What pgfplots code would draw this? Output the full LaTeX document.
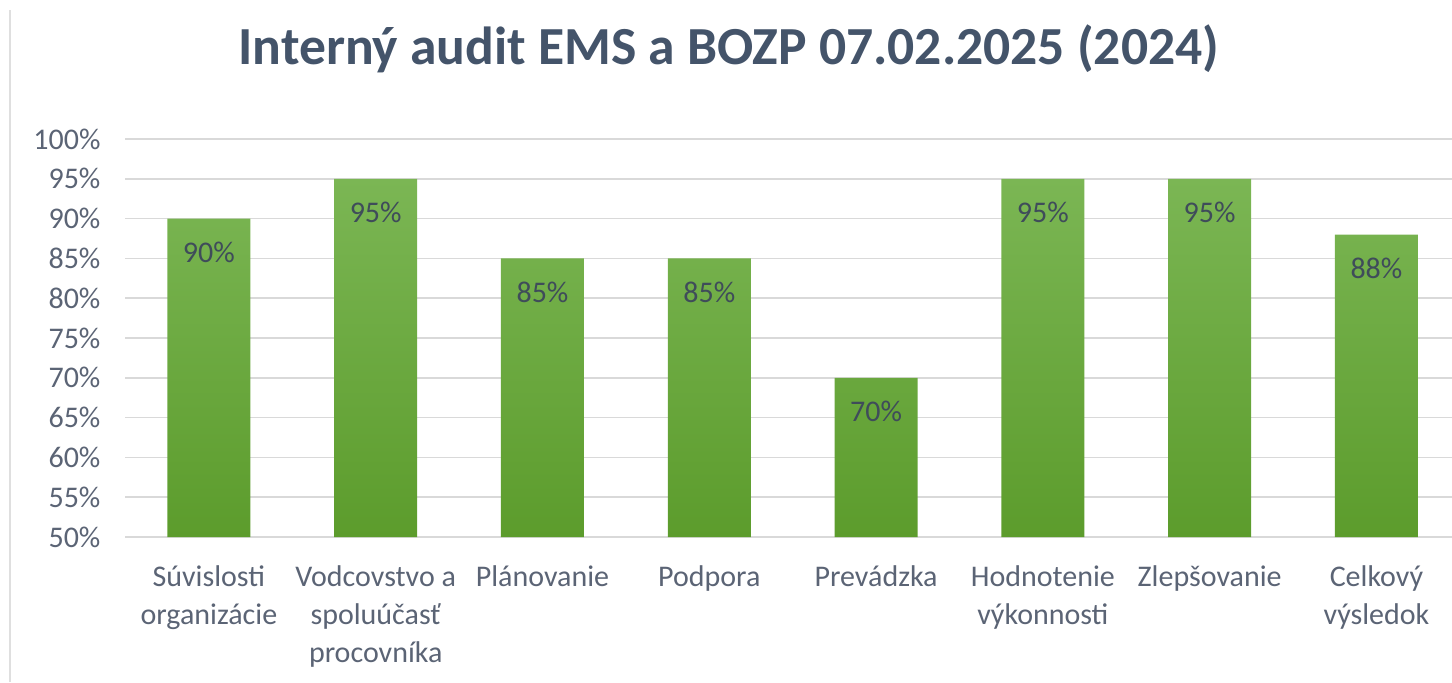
\documentclass[border=0pt]{standalone}
\usepackage{fontspec}
\setmainfont{Carlito}
\usepackage{pgfplots}
\pgfplotsset{compat=1.18}

\definecolor{titleblue}{HTML}{44546A}
\definecolor{tickgray}{HTML}{5B6475}
\definecolor{labeldark}{HTML}{3F4C5A}
\definecolor{gridgray}{HTML}{D9D9D9}
\definecolor{bartop}{HTML}{7BB654}
\definecolor{barbottom}{HTML}{5C9C2C}

\begin{document}
\begin{tikzpicture}
\begin{axis}[
  at={(0,0)}, anchor=south west,
  scale only axis,
  width=663pt, height=199pt,
  xmin=-0.5, xmax=7.45,
  ymin=50, ymax=100,
  ytick={50,55,...,100},
  yticklabel={\pgfmathprintnumber{\tick}\%},
  xtick={0,...,7},
  xticklabels={
    Súvislosti\\organizácie,
    Vodcovstvo a\\spoluúčasť\\procovníka,
    Plánovanie,
    Podpora,
    Prevádzka,
    Hodnotenie\\výkonnosti,
    Zlepšovanie,
    Celkový\\výsledok},
  xticklabel style={align=center, font=\fontsize{15}{19}\selectfont, text=tickgray, yshift=-11pt},
  yticklabel style={font=\fontsize{15}{18}\selectfont, text=tickgray, xshift=-9pt},
  /pgf/number format/assume math mode=true,
  axis line style={draw=none},
  major tick length=0pt,
  ymajorgrids,
  grid style={gridgray, line width=0.75pt},
  title={Interný audit EMS a BOZP 07.02.2025 (2024)},
  title style={at={(axis description cs:0.455,1.196)}, anchor=center,
    font=\fontsize{26.8}{30}\selectfont\bfseries, text=titleblue},
  clip=false,
]
\addplot[ybar, bar width=41.5pt, draw=none,
  top color=bartop, bottom color=barbottom,
  nodes near coords={\pgfmathprintnumber{\pgfplotspointmeta}\%},
  nodes near coords style={anchor=center, yshift=-17pt,
    font=\fontsize{15}{18}\selectfont, text=labeldark},
  point meta=y]
  coordinates {(0,90) (1,95) (2,85) (3,85) (4,70) (5,95) (6,95) (7,88)};
\end{axis}
\draw[gray!25, line width=0.75pt] (-57.75pt,-72.5pt) -- (-57.75pt,263.5pt);
\pgfresetboundingbox
\path[use as bounding box] (-62.75pt,-72.5pt) rectangle (663.25pt,268.5pt);
\end{tikzpicture}
\end{document}
